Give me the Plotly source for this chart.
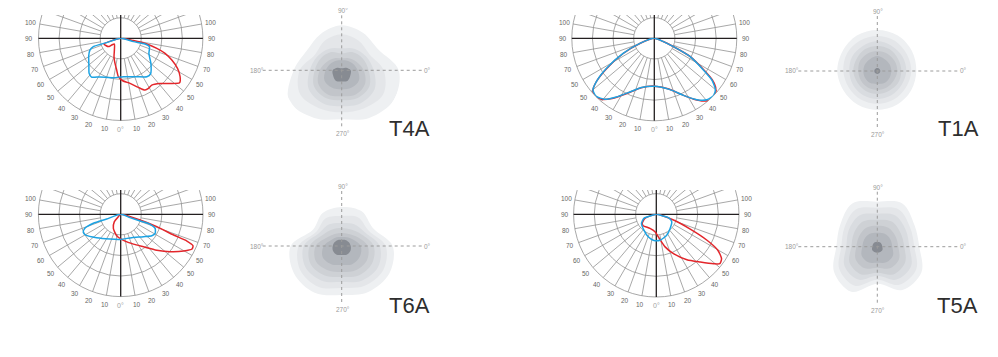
import math
import plotly.graph_objects as go

# ---------------- photometric curves: gamma (deg, 0 = nadir, + right), intensity (% of max)
T4A_red_gamma = [-71, -71.2, -56, -53.3, -47.9, -28.3, -20, -12.8, -7.2, -3.5, 2.7, 11.7, 19.8, 25.2, 29, 33.6,
                 41.1, 47.6, 53, 57.1, 62.1, 66.9, 71.3, 74.5, 77.6, 79.7, 80]
T4A_red_r = [0, 21.5, 18.1, 13.7, 10.4, 16.2, 23.8, 31.3, 38.9, 46.8, 51.7, 56, 63.5, 69.6, 69.7, 68.3,
             72.9, 81.4, 89.7, 86.1, 78.2, 67.6, 57, 45.6, 32.5, 15.7, 0]
T4A_blue_gamma = [-73, -72.9, -73.1, -69.1, -61, -50, -42, -37, -28.3, -10.5, 4, 22.7, 34.2, 40, 50, 61.6,
                  73.9, 76.8, 75.4, 75]
T4A_blue_r = [0, 17.9, 34.8, 40.1, 44.5, 50.5, 57.4, 59, 53.3, 48.7, 46.8, 50.6, 56.5, 56.5, 48, 39,
              36.4, 30.4, 16, 0]

T1A_red_gamma = [-70, -70.5, -64, -57.5, -53, -49.5, -46.3, -41.1, -35, -26, -15, 0, 16, 26, 33, 38.2, 43.2,
                 47.8, 51.5, 54.5, 57.5, 63, 66.5, 70, 70]
T1A_red_r = [0, 18, 42, 69, 88.5, 98, 100.5, 98, 89, 74, 62, 58, 64, 76, 88, 96.7, 102,
             100, 95, 86, 71, 49, 25, 11.5, 0]
T1A_blue_gamma = [-70, -70.7, -64.2, -57.8, -53.1, -49.7, -45, -39.1, -32.9, -24.5, -14.5, 0, 17.1, 27.1,
                  34.7, 40.6, 46.1, 50, 54, 57.1, 62.9, 66.4, 69.9, 70]
T1A_blue_r = [0, 18.5, 42, 68.7, 88, 97.5, 99.5, 95.3, 84.7, 71.5, 61.7, 58.2, 65.1, 77.7,
              90.5, 98, 99.8, 96.7, 86.4, 71.2, 48.9, 25.3, 11.7, 0]

T6A_red_gamma = [73, 73.5, 71.1, 68.6, 68, 66.5, 64, 59.7, 52.9, 45.2, 35.1, 23.2, 9.2, -10.6, -27.5, -40.8,
                 -45, -45]
T6A_red_r = [0, 24.5, 46.4, 69, 86.8, 95.8, 96.4, 88.6, 75.4, 61.8, 48.2, 39.4, 33, 26.4, 19.3, 11.8, 4, 0]
T6A_blue_gamma = [-71, -71.4, -71.8, -68.6, -64.2, -59.2, -45.8, -23.4, -1.6, 25.3, 45.5, 55.5, 61, 67.8,
                  71.2, 70.9, 70.5, 70]
T6A_blue_r = [0, 18, 35, 46.8, 50.5, 49.3, 40.8, 32.8, 30.5, 31.4, 38.8, 45.9, 47.8, 45.2, 37.8, 24.9, 12, 0]

T5A_red_gamma = [72, 71.5, 66.4, 62.9, 59.7, 55.8, 52.1, 49.3, 42.7, 34, 23.6, 15.1, 7.1, -4.3, -24.2, -49,
                 -57.3, -70.5, -72]
T5A_red_r = [0, 21.9, 44.8, 68.9, 86.2, 95.4, 97.3, 91.7, 78.5, 66.2, 51.9, 40.8, 29.5, 21.2, 18.7, 21,
             20.3, 14.6, 0]
T5A_blue_gamma = [-75, -74.9, -72, -58.5, -38.1, -19.7, -6.7, 8.2, 26.5, 44.4, 64.5, 74.6, 76.2, 76]
T5A_blue_r = [0, 8, 15.8, 21, 24.3, 28.9, 31.5, 31.7, 28.2, 23.9, 20.7, 15.2, 6.7, 0]

# scale labels (left side from 100 down to 10, right side likewise)
label_angles = [100, 90, 80, 70, 60, 50, 40, 30, 20, 10]
T4A_left_labels = ["100", "90", "80", "70", "60", "50", "40", "30", "20", "10"]
T4A_right_labels = ["100", "90", "80", "70", "50", "50", "40", "30", "20", "10"]
T1A_left_labels = ["100", "90", "80", "70", "50", "50", "40", "30", "20", "10"]
T1A_right_labels = ["100", "90", "80", "70", "60", "50", "40", "30", "20", "10"]
T6A_left_labels = ["100", "90", "80", "70", "60", "50", "40", "30", "20", "10"]
T6A_right_labels = ["100", "90", "80", "70", "50", "50", "40", "30", "20", "10"]
T5A_left_labels = ["100", "90", "80", "70", "60", "50", "40", "30", "20", "10"]
T5A_right_labels = ["100", "90", "80", "70", "60", "50", "40", "30", "20", "10"]
grid_levels = [25, 50, 75, 100]

# ---------------- isolux blobs: radius at angles 0,30,...,330 (deg, 0 = right, counterclockwise)
iso_angles = [0, 30, 60, 90, 120, 150, 180, 210, 240, 270, 300, 330]
iso_colors = ['#eef0f2', '#e4e6e9', '#d9dce0', '#ced1d5', '#c2c5ca', '#b3b7bd', '#878b92']

T4A_iso = [
    [57, 42, 43, 45, 42, 40, 48, 61, 55, 49, 55, 60],
    [42, 32, 34, 36, 34, 31, 42, 48, 44, 42, 44, 48],
    [32, 28, 25, 22, 25, 28, 32, 38, 38, 36, 38, 38],
    [27, 24, 21, 17, 21, 24, 27, 32, 32, 30, 32, 32],
    [22, 17, 14, 12, 14, 17, 22, 27, 28, 26, 28, 27],
    [16, 13, 11, 10, 11, 13, 16, 20, 20, 19, 20, 20],
    [9, 5, 2.5, 2, 2.5, 5, 9, 10, 12, 11.3, 12, 10],
]
T1A_iso = [
    [39, 40, 41, 41, 41, 40, 40, 39, 39, 39, 39, 39],
    [34, 34, 35, 35, 35, 35, 34, 33, 33, 33, 33, 33],
    [29, 29, 29, 30, 29, 29, 28, 28, 28, 28, 28, 28],
    [24, 24, 25, 25, 25, 24, 24, 23, 23, 23, 23, 24],
    [20, 20, 20, 20, 20, 20, 19, 19, 19, 19, 19, 19],
    [14, 14, 14, 15, 14, 14, 14, 14, 14, 13, 14, 14],
    [3, 3, 3, 3, 3, 3, 3, 3, 3, 3, 3, 3],
]
T6A_iso = [
    [51, 36, 40, 39, 38, 33, 51, 55, 54, 49, 53, 55],
    [44, 31, 33, 30, 32, 29, 43, 48, 47, 42, 46, 48],
    [38, 27, 25, 23, 25, 26, 38, 42, 40, 36, 40, 42],
    [32, 23, 19, 18, 19, 22, 32, 36, 34, 31, 34, 35],
    [26, 18, 14, 13, 14, 17, 26, 30, 28, 26, 28, 29],
    [19, 13, 10, 9, 10, 12, 18, 22, 21, 19, 21, 21],
    [9, 8, 7, 6, 7, 8, 9, 10, 10, 9, 10, 10],
]
T5A_iso = [
    [42, 43, 50, 45, 50, 43, 41, 50, 52, 37, 50, 51],
    [37, 38, 43, 39, 43, 38, 36, 44, 45, 33, 44, 45],
    [32, 33, 36, 33, 36, 33, 31, 38, 38, 29, 38, 39],
    [27, 27, 29, 27, 29, 27, 26, 32, 32, 26, 32, 32],
    [21, 21, 22, 21, 22, 21, 21, 25, 25, 21, 25, 25],
    [15, 15, 15, 14, 15, 15, 15, 18, 18, 16, 18, 18],
    [5, 5, 5, 5, 5, 5, 5, 6, 6, 6, 6, 6],
]

names = ["T4A", "T1A", "T6A", "T5A"]

# ---------------- layout geometry (window pixels; page body has an 8px margin)
OFF = 8
FW, FH = 990, 349
photo_geo = {"T4A": (120.7, 38.3, 82.2), "T1A": (654.3, 38.3, 82.5),
             "T6A": (120.7, 214.3, 82.3), "T5A": (656.3, 214.3, 82.7)}
iso_geo = {"T4A": (341.7, 70.3), "T1A": (877.3, 71.0), "T6A": (341.7, 246.0), "T5A": (877.3, 246.7)}
name_pos = {"T4A": (409.5, 129), "T1A": (958, 129), "T6A": (409.5, 305), "T5A": (957, 305)}
clip_y = {"T4A": (0, 15), "T1A": (0, 15), "T6A": (128.5, 190), "T5A": (128.5, 190)}
ISO_R = 60.0
LABEL_R = 91.5
SIN10 = math.sin(math.radians(10))

curves = {
    "T4A": (T4A_red_gamma, T4A_red_r, T4A_blue_gamma, T4A_blue_r, T4A_left_labels, T4A_right_labels, T4A_iso),
    "T1A": (T1A_red_gamma, T1A_red_r, T1A_blue_gamma, T1A_blue_r, T1A_left_labels, T1A_right_labels, T1A_iso),
    "T6A": (T6A_red_gamma, T6A_red_r, T6A_blue_gamma, T6A_blue_r, T6A_left_labels, T6A_right_labels, T6A_iso),
    "T5A": (T5A_red_gamma, T5A_red_r, T5A_blue_gamma, T5A_blue_r, T5A_left_labels, T5A_right_labels, T5A_iso),
}

FONT = "Liberation Sans, Arial, sans-serif"
RED = '#e3262b'
BLUE = '#1ca3e3'
GRID = '#929292'


def px(x):
    return (x - OFF) / FW


def py(y):
    return 1 - (y - OFF) / FH


def pt(cx, cy, rad, gamma):
    g = math.radians(gamma)
    return cx + rad * math.sin(g), cy + rad * math.cos(g)


fig = go.Figure()
layout_polars = {}
grid_shapes, mask_shapes, top_shapes = [], [], []
annotations = []

idx = 1
for nm in names:
    rg, rr_, bg, br, ll, rl, iso = curves[nm]
    cx, cy, R = photo_geo[nm]

    # ---- grid (decoration, drawn beneath the data subplot)
    for lv in grid_levels:
        rad = R * lv / 100
        grid_shapes.append(dict(type='circle', xref='paper', yref='paper', layer='below',
                                x0=px(cx - rad), x1=px(cx + rad), y0=py(cy + rad), y1=py(cy - rad),
                                line=dict(color=GRID, width=0.8)))
    for a in range(0, 360, 10):
        if a % 90 == 0:
            continue
        x0, y0 = pt(cx, cy, R * grid_levels[0] / 100, a)
        x1, y1 = pt(cx, cy, R, a)
        grid_shapes.append(dict(type='line', xref='paper', yref='paper', layer='below',
                                x0=px(x0), x1=px(x1), y0=py(y0), y1=py(y1),
                                line=dict(color=GRID, width=0.8)))
    grid_shapes.append(dict(type='line', xref='paper', yref='paper', layer='below',
                            x0=px(cx - R), x1=px(cx + R), y0=py(cy), y1=py(cy),
                            line=dict(color='#231f20', width=1.3)))
    grid_shapes.append(dict(type='line', xref='paper', yref='paper', layer='below',
                            x0=px(cx), x1=px(cx), y0=py(cy - R), y1=py(cy + R),
                            line=dict(color='#231f20', width=1.3)))
    m0, m1 = clip_y[nm]
    mask_shapes.append(dict(type='rect', xref='paper', yref='paper', layer='below',
                            x0=px(cx - R - 4), x1=px(cx + R + 4), y0=py(m1), y1=py(m0),
                            fillcolor='white', line=dict(width=0)))
    # scale labels
    for ang, txt in zip(label_angles, ll):
        lx, ly = pt(cx, cy, LABEL_R, -ang)
        annotations.append(dict(x=px(lx), y=py(ly), xref='paper', yref='paper', text=txt, showarrow=False,
                                xanchor='center', yanchor='middle',
                                font=dict(size=6.5, color='#666666', family=FONT)))
    for ang, txt in zip(label_angles, rl):
        lx, ly = pt(cx, cy, LABEL_R, ang)
        annotations.append(dict(x=px(lx), y=py(ly), xref='paper', yref='paper', text=txt, showarrow=False,
                                xanchor='center', yanchor='middle',
                                font=dict(size=6.5, color='#666666', family=FONT)))
    lx, ly = pt(cx, cy, LABEL_R, 0)
    annotations.append(dict(x=px(lx), y=py(ly), xref='paper', yref='paper', text="0°", showarrow=False,
                            xanchor='center', yanchor='middle',
                            font=dict(size=7, color='#a3a3a3', family=FONT)))

    # ---- data subplot
    pid = "polar" if idx == 1 else f"polar{idx}"
    layout_polars[pid] = dict(
        domain=dict(x=[px(cx - R), px(cx + R)], y=[py(cy + R), py(cy - SIN10 * R)]),
        sector=[-190, 10], bgcolor='rgba(0,0,0,0)',
        radialaxis=dict(visible=False, range=[0, 100]),
        angularaxis=dict(visible=False, rotation=-90, direction='counterclockwise'))
    common = dict(subplot=pid, hoverinfo='skip', cliponaxis=False, showlegend=False)
    fig.add_trace(go.Scatterpolar(r=rr_, theta=rg, mode='lines',
                                  line=dict(color=RED, width=1.5, shape='spline', smoothing=0.6), **common))
    fig.add_trace(go.Scatterpolar(r=br, theta=bg, mode='lines',
                                  line=dict(color=BLUE, width=1.5, shape='spline', smoothing=0.6), **common))
    idx += 1

    # ---- isolux diagram
    pid = f"polar{idx}"
    icx, icy = iso_geo[nm]
    layout_polars[pid] = dict(
        domain=dict(x=[px(icx - ISO_R), px(icx + ISO_R)], y=[py(icy + ISO_R), py(icy - ISO_R)]),
        bgcolor='rgba(0,0,0,0)',
        radialaxis=dict(visible=False, range=[0, ISO_R]),
        angularaxis=dict(visible=False, rotation=0, direction='counterclockwise'))
    for lev, col in zip(iso, iso_colors):
        fig.add_trace(go.Scatterpolar(r=lev + lev[:1], theta=iso_angles + [360], mode='lines',
                                      fill='toself', fillcolor=col,
                                      line=dict(width=0, color=col, shape='spline', smoothing=1.0),
                                      subplot=pid, hoverinfo='skip', showlegend=False))
    idx += 1
    top_shapes.append(dict(type='line', xref='paper', yref='paper', layer='above',
                           x0=px(icx - 79), x1=px(icx + 83), y0=py(icy), y1=py(icy),
                           line=dict(color='#9c9c9c', width=1, dash='dot')))
    top_shapes.append(dict(type='line', xref='paper', yref='paper', layer='above',
                           x0=px(icx), x1=px(icx), y0=py(icy - 55), y1=py(icy + 57),
                           line=dict(color='#9c9c9c', width=1, dash='dot')))
    for txt, dx, dy in [("90°", 1, -59.5), ("180°", -85, 0), ("0°", 86, 0), ("270°", 1, 63.5)]:
        annotations.append(dict(x=px(icx + dx), y=py(icy + dy), xref='paper', yref='paper', text=txt,
                                showarrow=False, xanchor='center', yanchor='middle',
                                font=dict(size=6.5, color='#9a9a9a', family=FONT)))
    nx, ny = name_pos[nm]
    annotations.append(dict(x=px(nx), y=py(ny), xref='paper', yref='paper', text=nm, showarrow=False,
                            xanchor='center', yanchor='middle',
                            font=dict(size=22, color='#2e2e2e', family=FONT)))

fig.update_layout(width=FW, height=FH, margin=dict(l=0, r=0, t=0, b=0),
                  paper_bgcolor='white', plot_bgcolor='white', showlegend=False,
                  shapes=grid_shapes + mask_shapes + top_shapes, annotations=annotations, **layout_polars)

fig.write_html("out.html")
